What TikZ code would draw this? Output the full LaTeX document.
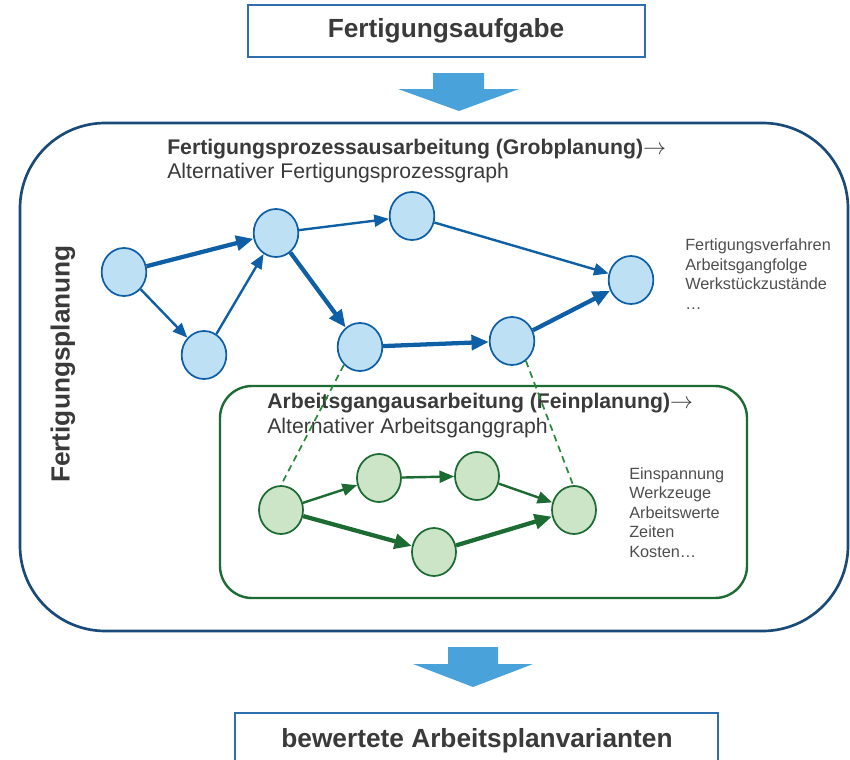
\documentclass[tikz,border=0pt]{standalone}
\usepackage{amsmath}
\usepackage{fontspec}
\setmainfont{Liberation Sans}
\usepackage{tikz}
\usetikzlibrary{arrows.meta,shapes.geometric}

\definecolor{rahmen}{HTML}{1A4A78}
\definecolor{kasten}{HTML}{2F6FAE}
\definecolor{pfeil}{HTML}{4AA2DA}
\definecolor{blaurand}{HTML}{0F5FA6}
\definecolor{blaufill}{HTML}{BEE0F5}
\definecolor{gruenrand}{HTML}{1B6B33}
\definecolor{gruenfill}{HTML}{CDE5C7}
\definecolor{gruenstrich}{HTML}{2A8A3C}
\definecolor{schrift}{HTML}{3A3A3A}

\tikzset{
  bknoten/.style={ellipse, draw=blaurand, fill=blaufill, line width=1.3pt,
    minimum width=33.5pt, minimum height=36pt, inner sep=0pt},
  gknoten/.style={ellipse, draw=gruenrand, fill=gruenfill, line width=1.3pt,
    minimum width=33pt, minimum height=36pt, inner sep=0pt},
  bduenn/.style={draw=blaurand, line width=1.8pt, -{Triangle[length=11pt,width=9pt]}},
  bdick/.style={draw=blaurand, line width=3.2pt, -{Triangle[length=13pt,width=11pt]}},
  gduenn/.style={draw=gruenrand, line width=1.8pt, -{Triangle[length=11pt,width=9pt]}},
  gdick/.style={draw=gruenrand, line width=3.2pt, -{Triangle[length=13pt,width=11pt]}},
  gstrich/.style={draw=gruenstrich, line width=1.3pt, dash pattern=on 5pt off 3.5pt},
  gross/.style={font=\fontsize{19.7pt}{23pt}\selectfont\bfseries, text=schrift},
  kopf/.style={font=\fontsize{15.9pt}{19pt}\selectfont, text=schrift, anchor=base west, inner sep=0pt},
  liste/.style={font=\fontsize{12.2pt}{14.6pt}\selectfont, text=schrift!90, align=left,
    anchor=base west, inner sep=0pt}
}

\begin{document}
\begin{tikzpicture}[x=0.75pt,y=-0.75pt]

\useasboundingbox (0,0) rectangle (850,760);
\clip (0,0) rectangle (850,760);

%% boxes top and bottom
\draw[kasten, line width=1.5pt] (248,5) rectangle (645,57);
\node[gross] (aufgabe) at (446,31) {Fertigungsaufgabe};
\draw[kasten, line width=1.5pt] (235,713) rectangle (718,790);
\node[gross] (varianten) at (477,741) {bewertete Arbeitsplanvarianten};

%% block arrows
\fill[pfeil] (433,73) -- (484,73) -- (484,89) -- (519,89) -- (459,111) -- (398,89) -- (433,89) -- cycle;
\fill[pfeil] (448,647) -- (498,647) -- (498,664) -- (533,664) -- (473,687) -- (413,664) -- (448,664) -- cycle;

%% frame
\draw[rahmen, line width=2pt, rounded corners=64pt] (20,123) rectangle (848,631);
\node[gross, rotate=90] (planung) at (63,364) {Fertigungsplanung};

\node[kopf] (grob) at (167,154) {\textbf{Fertigungsprozessausarbeitung (Grobplanung)}$\rightarrow$};
\node[kopf] (grobalt) at (167,178) {Alternativer Fertigungsprozessgraph};

%% blue vertices
\node[bknoten] (a) at (124,272) {};   %% a
\node[bknoten] (b) at (204,355) {};   %% b
\node[bknoten] (c) at (276,233) {};   %% c
\node[bknoten] (d) at (412,216) {};   %% d
\node[bknoten] (e) at (631,280) {};   %% e
\node[bknoten] (f) at (360,347) {};   %% f
\node[bknoten] (g) at (512,341) {};   %% g

%% blue edges
\draw[bduenn] (a) -- (b);     %% ab
\draw[bduenn] (b) -- (c);     %% bc
\draw[bduenn] (c) -- (d);     %% cd
\draw[bduenn] (d) -- (e);     %% de
\draw[bdick] (a) -- (c);      %% ac
\draw[bdick] (c) -- (f);      %% cf
\draw[bdick] (f) -- (g);      %% fg
\draw[bdick] (g) -- (e);      %% ge

%% last line sits on the given point
\node[liste] (grobliste) at (685,309) {Fertigungsverfahren\\Arbeitsgangfolge\\Werkstückzustände\\…};

%% green box
\draw[gruenrand, line width=1.8pt, rounded corners=24pt] (220,386) rectangle (747,598);
\node[kopf] (fein) at (267,408) {\textbf{Arbeitsgangausarbeitung (Feinplanung)}$\rightarrow$};
\node[kopf] (feinalt) at (267,433) {Alternativer Arbeitsganggraph};

%% green vertices
\node[gknoten] (p) at (281,510) {};   %% p
\node[gknoten] (q) at (379,478) {};   %% q
\node[gknoten] (r) at (477,476) {};   %% r
\node[gknoten] (s) at (574,510) {};   %% s
\node[gknoten] (t) at (434,552) {};   %% t

%% dashed links
\draw[gstrich] (f.228) -- (p.90);     %% fp
\draw[gstrich] (g.-55) -- (s.92);     %% gs

%% green edges
\draw[gduenn] (p) -- (q);     %% pq
\draw[gduenn] (q) -- (r);     %% qr
\draw[gduenn] (r) -- (s);     %% rs
\draw[gdick] (p) -- (t);      %% pt
\draw[gdick] (t) -- (s);      %% ts

\node[liste] (feinliste) at (629,557) {Einspannung\\Werkzeuge\\Arbeitswerte\\Zeiten\\Kosten…};

\end{tikzpicture}
\end{document}
